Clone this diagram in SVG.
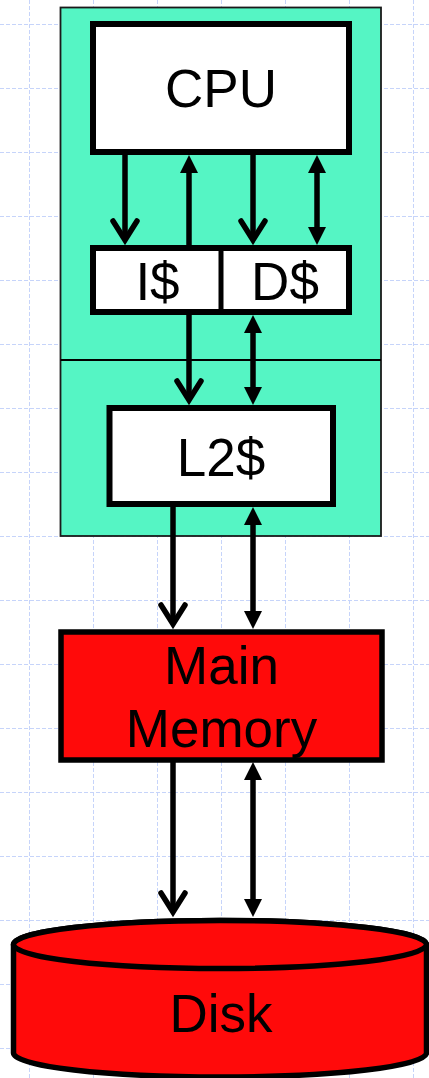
<svg xmlns="http://www.w3.org/2000/svg" width="429" height="1078" viewBox="0 0 429 1078">
  <style>
    .grid line { stroke: #c6d4fa; stroke-width: 1; stroke-dasharray: 4 2; }
    .box { fill: #ffffff; stroke: #000000; stroke-width: 6; }
    .red { fill: #ff0a0a; stroke: #000000; stroke-width: 5.5; }
    .label { font-family: "Liberation Sans", Arial, sans-serif; font-size: 53px; fill: #000000; text-anchor: middle; }
    .wire { stroke: #000000; stroke-width: 5.5; fill: none; }
    .down { marker-end: url(#open); }
    .up { marker-end: url(#tri); }
    .both { marker-start: url(#tri); marker-end: url(#tri); }
  </style>
  <defs>
    <!-- open chevron head -->
    <marker id="open" markerUnits="userSpaceOnUse" orient="auto" refX="0" refY="0" markerWidth="40" markerHeight="40" overflow="visible">
      <path d="M-19,-12 L0,0 L-19,12" fill="none" stroke="#000" stroke-width="5.5" stroke-linecap="round" stroke-linejoin="miter"/>
    </marker>
    <!-- solid triangle head; tip sits 8px past the line end -->
    <marker id="tri" markerUnits="userSpaceOnUse" orient="auto-start-reverse" refX="0" refY="0" markerWidth="40" markerHeight="40" overflow="visible">
      <path d="M8,0 L-10,-9 L-10,9 Z" fill="#000"/>
    </marker>
  </defs>

  <rect x="0" y="0" width="429" height="1078" fill="#ffffff"/>

  <!-- background grid -->
  <g class="grid">
    <line x1="29.5" y1="0" x2="29.5" y2="1078"/>
    <line x1="93.5" y1="0" x2="93.5" y2="1078"/>
    <line x1="157.5" y1="0" x2="157.5" y2="1078"/>
    <line x1="221.5" y1="0" x2="221.5" y2="1078"/>
    <line x1="285.5" y1="0" x2="285.5" y2="1078"/>
    <line x1="349.5" y1="0" x2="349.5" y2="1078"/>
    <line x1="413.5" y1="0" x2="413.5" y2="1078"/>
    <line x1="0" y1="24.5" x2="429" y2="24.5"/>
    <line x1="0" y1="88.5" x2="429" y2="88.5"/>
    <line x1="0" y1="152.5" x2="429" y2="152.5"/>
    <line x1="0" y1="216.5" x2="429" y2="216.5"/>
    <line x1="0" y1="280.5" x2="429" y2="280.5"/>
    <line x1="0" y1="344.5" x2="429" y2="344.5"/>
    <line x1="0" y1="408.5" x2="429" y2="408.5"/>
    <line x1="0" y1="472.5" x2="429" y2="472.5"/>
    <line x1="0" y1="536.5" x2="429" y2="536.5"/>
    <line x1="0" y1="600.5" x2="429" y2="600.5"/>
    <line x1="0" y1="664.5" x2="429" y2="664.5"/>
    <line x1="0" y1="728.5" x2="429" y2="728.5"/>
    <line x1="0" y1="792.5" x2="429" y2="792.5"/>
    <line x1="0" y1="856.5" x2="429" y2="856.5"/>
    <line x1="0" y1="920.5" x2="429" y2="920.5"/>
    <line x1="0" y1="984.5" x2="429" y2="984.5"/>
    <line x1="0" y1="1048.5" x2="429" y2="1048.5"/>
  </g>

  <!-- on-chip region -->
  <g id="chip">
    <rect x="60.5" y="7.5" width="320.5" height="528.5" fill="#55f5c4" stroke="#1a1a1a" stroke-width="1.8"/>
    <line x1="60.5" y1="360" x2="381" y2="360" stroke="#000" stroke-width="2"/>
  </g>

  <!-- connectors -->
  <g id="connectors">
    <line class="wire down" x1="125" y1="152" x2="125" y2="240"/>
    <line class="wire up" x1="189" y1="248" x2="189" y2="163"/>
    <line class="wire down" x1="253" y1="152" x2="253" y2="240"/>
    <line class="wire both" x1="317" y1="163" x2="317" y2="237"/>
    <line class="wire down" x1="189" y1="312" x2="189" y2="400"/>
    <line class="wire both" x1="253" y1="323" x2="253" y2="397"/>
    <line class="wire down" x1="173" y1="504" x2="173" y2="624"/>
    <line class="wire both" x1="253" y1="515" x2="253" y2="621"/>
    <line class="wire down" x1="173" y1="760" x2="173" y2="912"/>
    <line class="wire both" x1="253" y1="770" x2="253" y2="909"/>
  </g>

  <g id="cpu">
    <rect class="box" x="93" y="24" width="256" height="128"/>
    <text class="label" x="221" y="107">CPU</text>
  </g>

  <g id="l1">
    <rect class="box" x="93" y="248" width="256" height="64"/>
    <line x1="221" y1="248" x2="221" y2="312" stroke="#000" stroke-width="5"/>
    <text class="label" x="157.5" y="300">I$</text>
    <text class="label" x="285" y="300">D$</text>
  </g>

  <g id="l2">
    <rect class="box" x="109.5" y="408" width="223.5" height="96"/>
    <text class="label" x="221" y="476">L2$</text>
  </g>

  <g id="memory">
    <rect class="red" x="61" y="632" width="321" height="128"/>
    <text class="label" x="221.5" y="684">Main</text>
    <text class="label" x="221.5" y="746.5">Memory</text>
  </g>

  <g id="disk">
    <path class="red" d="M13.5,944.5 L13.5,1053 A206.5,24 0 0 0 426.5,1053 L426.5,944.5 A206.5,24 0 0 0 13.5,944.5 Z"/>
    <ellipse class="red" cx="220" cy="944.5" rx="206.5" ry="24"/>
    <text class="label" x="221" y="1032">Disk</text>
  </g>
</svg>
